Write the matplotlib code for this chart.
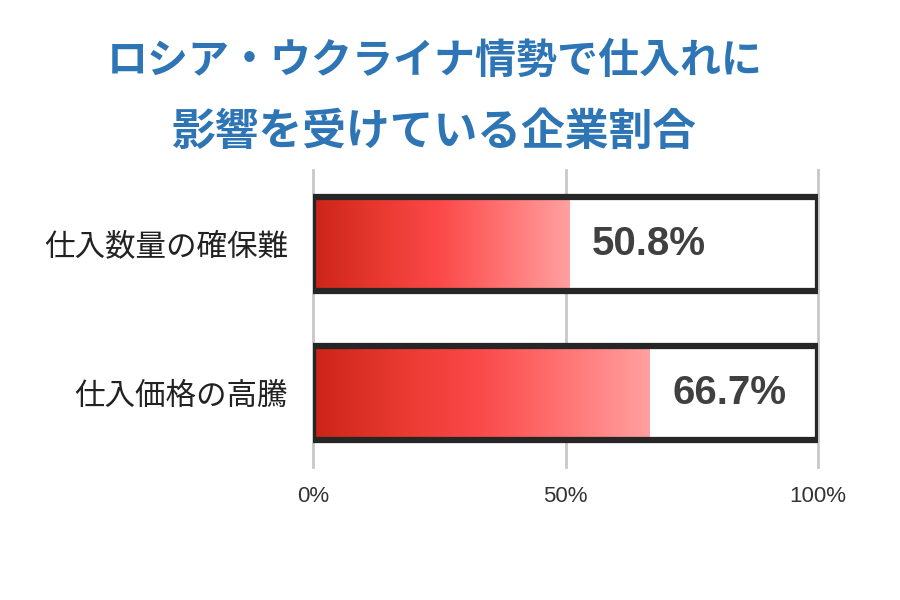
import numpy as np
import matplotlib
matplotlib.use("Agg")
import matplotlib.pyplot as plt
from matplotlib.colors import LinearSegmentedColormap
from matplotlib.patches import Rectangle

plt.rcParams["font.family"] = ["Noto Sans CJK JP", "DejaVu Sans"]

title_lines = ["ロシア・ウクライナ情勢で仕入れに", "影響を受けている企業割合"]
categories = ["仕入数量の確保難", "仕入価格の高騰"]
values = [50.8, 66.7]
tick_vals = [0, 50, 100]
tick_labels = ["0%", "50%", "100%"]

red_grad = LinearSegmentedColormap.from_list(
    "redgrad", ["#cc2418", "#e8392f", "#fb4a4a", "#ff7474", "#ffa0a0"])
ramp = np.linspace(0, 1, 256).reshape(1, -1)

fig = plt.figure(figsize=(9, 6), dpi=100)
ax = fig.add_axes([0.3478, 0.2217, 0.5611, 0.495])

bar_h = 0.635
ypos = [1, 0]  # top row first
for cat, v, y in zip(categories, values, ypos):
    ax.imshow(ramp, cmap=red_grad, aspect="auto", interpolation="bilinear",
              extent=[0, v, y - bar_h / 2, y + bar_h / 2], zorder=2)
    ax.add_patch(Rectangle((0, y - bar_h / 2), 100, bar_h, fill=False,
                           edgecolor="#262626", linewidth=4.5, zorder=3))
    ax.text(v + 4.5, y, "%.1f%%" % v, ha="left", va="center",
            fontsize=29, fontweight="bold", color="#404040",
            family=["Liberation Sans", "DejaVu Sans"], zorder=4)

for t in tick_vals:
    ax.axvline(t, color="#c8c8c8", linewidth=2, zorder=1, clip_on=False)

ax.set_xlim(0, 100)
ax.set_ylim(-0.5, 1.5)
ax.set_xticks(tick_vals)
ax.set_xticklabels(tick_labels, fontsize=16, color="#333333",
                   family=["Liberation Sans", "DejaVu Sans"])
ax.set_yticks(ypos)
ax.set_yticklabels(categories, fontsize=22, color="#222222")
ax.tick_params(axis="x", length=0, pad=14)
ax.tick_params(axis="y", length=0, pad=18)
for s in ax.spines.values():
    s.set_visible(False)

fig.text(0.483, 0.898, title_lines[0], ha="center", va="center",
         fontsize=29.5, fontweight="bold", color="#2e75b6")
fig.text(0.483, 0.780, title_lines[1], ha="center", va="center",
         fontsize=31.5, fontweight="bold", color="#2e75b6")

fig.savefig("out.png", dpi=100)
